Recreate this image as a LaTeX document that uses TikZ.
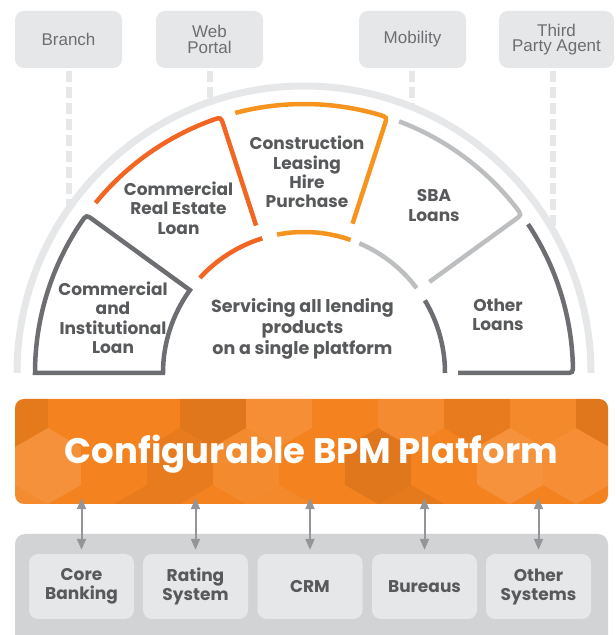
\documentclass[tikz,border=0pt]{standalone}
\usepackage{fontspec}
\newfontfamily\ar{Liberation Sans}
\newfontfamily\gb{Poppins}
\usetikzlibrary{arrows.meta,calc}
\definecolor{boxgray}{HTML}{E6E7E8}
\definecolor{panelgray}{HTML}{D1D3D4}
\definecolor{tgray}{HTML}{6D6E71}
\definecolor{bgray}{HTML}{58595B}
\definecolor{darkseg}{HTML}{6D6E71}
\definecolor{sbaseg}{HTML}{BCBEC0}
\definecolor{creseg}{HTML}{F26522}
\definecolor{conseg}{HTML}{F7941D}
\definecolor{bannerc}{HTML}{F4821F}
\definecolor{arrowgray}{HTML}{939598}
\begin{document}
\begin{tikzpicture}[x=1pt,y=1pt,
  topbox/.style={fill=boxgray, rounded corners=9pt, minimum width=107pt, minimum height=57pt, inner sep=0pt, align=center, text=tgray, font=\ar\fontsize{17pt}{15.5pt}\selectfont},
  botbox/.style={fill=boxgray, rounded corners=9pt, minimum width=105pt, minimum height=65pt, inner sep=0pt, align=center, text=bgray, font=\gb\bfseries\fontsize{17pt}{19pt}\selectfont},
  lbl/.style={align=center, inner sep=0pt, text=bgray, font=\gb\bfseries\fontsize{17pt}{19.3pt}\selectfont},
  seg/.style={line width=4.5pt, line cap=butt, line join=miter},
  dashline/.style={line width=6pt, boxgray, dash pattern=on 11pt off 5pt},
  arr/.style={line width=2pt, arrowgray, {Triangle[length=11pt,width=9pt]}-{Triangle[length=11pt,width=9pt]}},
  hexa/.style={sharp corners}
]
\useasboundingbox (0,0) rectangle (616,635);

% top channel boxes
\node[topbox] (branch) at (68.5,595.5) {Branch};
\node[topbox] (web) at (209.5,595.5) {Web\\Portal};
\node[topbox] (mob) at (412.5,595.5) {Mobility};
\node[topbox, minimum width=115pt] (tpa) at (556.5,595.5) {Third\\Party Agent};

% points where the dashed lines meet the outer arc
\coordinate (c) at (304,262);
\coordinate (d1) at (68.5,426);
\coordinate (d2) at (209.5,532.8);
\coordinate (d3) at (412,527.9);
\coordinate (d4) at (553,404.7);

\draw[dashline] ($(branch.south)+(0,-3)$) -- (d1);
\draw[dashline] ($(web.south)+(0,-3)$) -- (d2);
\draw[dashline] ($(mob.south -| d3)+(0,-3)$) -- (d3);
\draw[dashline] ($(tpa.south -| d4)+(0,-3)$) -- (d4);

% outer light arc
\begin{scope}[shift={(c)}]
\draw[line width=7pt, boxgray] (0:287) arc[start angle=0, end angle=180, radius=287];

% Commercial and Institutional
\draw[seg, darkseg] (180:141) -- (180:269) arc[start angle=180, end angle=145.8, radius=269]
  .. controls (144:269) .. (144:260.5) -- (144:141) arc[start angle=144, end angle=180, radius=141] -- cycle;
% Commercial Real Estate
\draw[seg, creseg] (140.8:269) arc[start angle=140.8, end angle=109.8, radius=269]
  .. controls (108:269) .. (108:260.5) -- (108:155);
\draw[seg, creseg] (137.6:141) arc[start angle=137.6, end angle=107.2, radius=141];
% Construction
\draw[seg, conseg] (104.8:269) arc[start angle=104.8, end angle=73.8, radius=269]
  .. controls (72:269) .. (72:260.5) -- (72:157);
\draw[seg, conseg] (101:141) arc[start angle=101, end angle=70.7, radius=141];
% SBA
\draw[seg, sbaseg] (69.3:269) arc[start angle=69.3, end angle=37.8, radius=269]
  .. controls (36:269) .. (36:260.5) -- (36:155);
\draw[seg, sbaseg] (66.9:141) arc[start angle=66.9, end angle=37, radius=141];
% Other
\draw[seg, darkseg] (33.6:269) arc[start angle=33.6, end angle=1.8, radius=269]
  .. controls (0:269) .. (0:260.5) -- (0:154);
\draw[seg, darkseg] (31:141) arc[start angle=31, end angle=0, radius=141];
\end{scope}

% segment labels
\node[lbl] (ci) at (113,317.3) {Commercial\\and\\Institutional\\Loan};
\node[lbl] (cre) at (178.5,426.8) {Commercial\\Real Estate\\Loan};
\node[lbl] (con) at (307,463) {Construction\\Leasing\\Hire\\Purchase};
\node[lbl] (sba) at (434,429.6) {SBA\\Loans};
\node[lbl] (oth) at (498,320.1) {Other\\Loans};
\node[lbl, font=\gb\bfseries\fontsize{17.5pt}{21pt}\selectfont] (serv) at (302.5,306) {Servicing all lending\\products\\on a single platform};

% bottom panel
\node[fill=panelgray, rounded corners=10pt, minimum width=593pt, minimum height=121pt, inner sep=0pt] (panel) at (311.5,40.5) {};

% banner with hexagon texture
\node[fill=bannerc, rounded corners=9pt, minimum width=593pt, minimum height=105pt, inner sep=0pt] (banner) at (311.5,183.5) {};
\begin{scope}
\clip[rounded corners=9pt] (banner.south west) rectangle (banner.north east);
\begin{scope}[shift={(15,131)}]
\foreach \hx/\hy/\hc/\ho in {0/95/black/0.06, 198/95/black/0.08, 264/95/white/0.10, 396/95/white/0.08, 462/95/black/0.05, 528/95/white/0.06, 594/95/black/0.08,
  33/38/white/0.12, 165/38/black/0.05, 231/38/white/0.07, 363/38/black/0.08, 495/38/white/0.13, 561/38/white/0.10,
  0/-19/white/0.08, 132/-19/black/0.05, 264/-19/white/0.06, 396/-19/black/0.06}
  \fill[hexa, \hc, fill opacity=\ho] (\hx,\hy) +(90:38) -- +(150:38) -- +(210:38) -- +(270:38) -- +(330:38) -- +(30:38) -- cycle;
\end{scope}
\end{scope}
\node[anchor=base, text=white, inner sep=0pt, font=\gb\bfseries\fontsize{35.5pt}{40pt}\selectfont] (bantext) at (311.5,171) {Configurable BPM Platform};

% system boxes
\node[botbox] (cb) at (81.5,48.5) {Core\\Banking};
\node[botbox] (rs) at (195.5,48.5) {Rating\\System};
\node[botbox] (crm) at (310,48.5) {CRM};
\node[botbox] (bur) at (424.5,48.5) {Bureaus};
\node[botbox] (os) at (538.5,48.5) {Other\\Systems};

% arrows
\foreach \b in {cb,rs,crm,bur,os}
  \draw[arr] ($(banner.south -| \b.north)+(0,6)$) -- ($(\b.north)+(0,4)$);
\end{tikzpicture}
\end{document}
